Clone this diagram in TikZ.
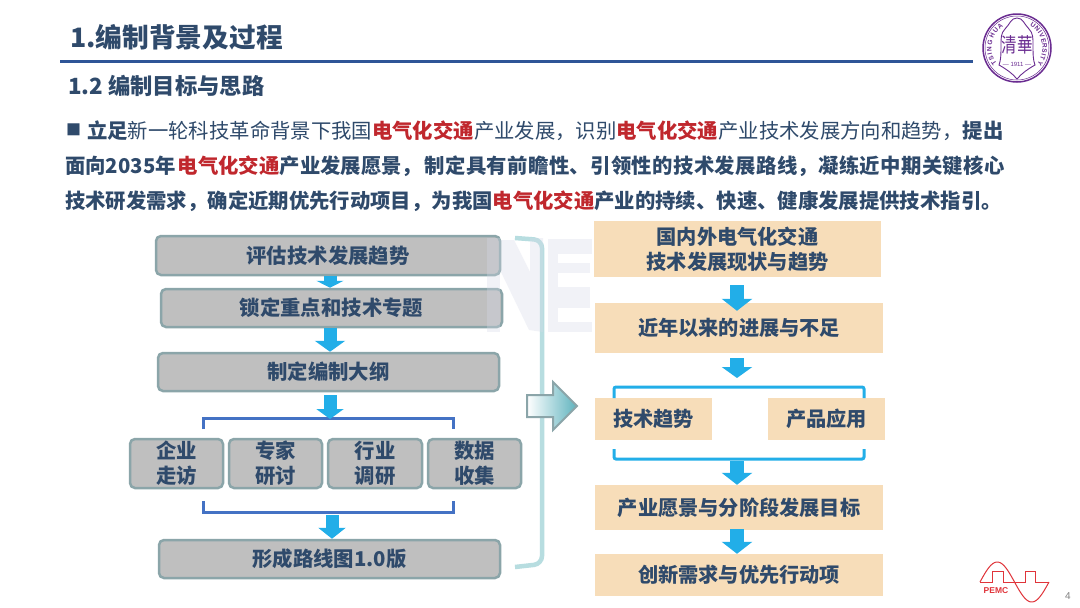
\documentclass[tikz,border=0pt]{standalone}
\usepackage{fontspec}
\setmainfont{Noto Sans CJK SC}
\setsansfont{Liberation Sans}
\usetikzlibrary{arrows.meta,decorations.text}
\definecolor{ink}{HTML}{2F4A6B}
\definecolor{hot}{HTML}{C0272D}
\definecolor{rulec}{HTML}{2F5597}
\definecolor{greyfill}{HTML}{BFBFBF}
\definecolor{greyline}{HTML}{8BA5A9}
\definecolor{sand}{HTML}{F7DDB9}
\definecolor{sky}{HTML}{22AEE8}
\definecolor{royal}{HTML}{4472C4}
\definecolor{pale}{HTML}{B7DDE0}
\definecolor{tealc}{HTML}{5FB3BE}
\definecolor{seal}{HTML}{6A2C91}
\definecolor{pemc}{HTML}{E0343A}
\definecolor{wm}{HTML}{D5DAE8}
\newcommand{\hl}[1]{{\bfseries\color{hot}#1}}
\newcommand{\bodytxt}{\fontsize{20.36}{25}\selectfont}
\tikzset{
  x=1pt,y=-1pt,
  txt/.style={inner sep=0pt,text=ink,font=\bodytxt},
  line/.style={txt,anchor=west},
  graybox/.style={draw=greyline,line width=2.5pt,fill=greyfill,rounded corners=5pt,inner sep=0pt,align=center,text=ink,font=\bfseries\bodytxt},
  sandbox/.style={fill=sand,inner sep=0pt,align=center,text=ink,font=\bfseries\fontsize{20.2}{25}\selectfont},
  flow/.style={draw=sky,line width=#1,line cap=butt},
  flow/.default=13pt,
  bracketa/.style={draw=royal,line width=3pt},
  bracketb/.style={draw=sky,line width=3pt,rounded corners=2pt},
  sealpen/.style={draw=seal,line width=1pt},
  sealtext/.style={decorate,decoration={text along path,text align=fit to path,text={|\color{seal}\sffamily\bfseries\fontsize{6.5}{7}\selectfont|#1}}},
}
\begin{document}
\begin{tikzpicture}
\useasboundingbox (0,0) rectangle (1080,608);
\fill[white] (0,0) rectangle (1080,608);

% header
\node[txt,anchor=west,font=\bfseries\fontsize{26.7}{30}\selectfont] (title) at (70,37) {1.编制背景及过程};
\coordinate (ruleL) at (60,61); \coordinate (ruleR) at (973,61);
\draw[rulec,line width=3pt] (ruleL) -- (ruleR);
\node[txt,anchor=west,font=\bfseries\fontsize{22.3}{26}\selectfont] (sub) at (68,86) {1.2 编制目标与思路};

% paragraph
\node[txt,anchor=west,font=\fontsize{15}{15}\selectfont] (sq) at (66,130) {■};
\node[line] (l1) at (87,131) {\textbf{立足}新一轮科技革命背景下我国\hl{电气化交通}产业发展，识别\hl{电气化交通}产业技术发展方向和趋势，\textbf{提出}};
\node[line,font=\bfseries\bodytxt] (l2) at (65,166) {面向2035年\hspace{2pt}\hl{电气化交通}产业发展愿景，\hspace{2.5pt}{\addfontfeature{LetterSpace=1.8}制定具有前瞻性、引领性的技术发展路线，凝练近中期关键核心}};
\node[line,font=\bfseries\bodytxt] (l3) at (65,201) {技术研发需求，确定近期优先行动项目，为我国\hl{电气化交通}产业的持续、快速、健康发展提供技术指引。};

% big bracket
\coordinate (bkT) at (515,238); \coordinate (bkB) at (515,567);
\draw[pale,line width=4.5pt,rounded corners=8pt] (bkT) -- (542,240) -- (542,564) -- (bkB);

% left boxes
\node[graybox,minimum width=344pt,minimum height=39pt] (b1) at (328,255.5) {评估技术发展趋势};
\node[graybox,minimum width=341pt,minimum height=38pt] (b2) at (331.5,308) {锁定重点和技术专题};
\node[graybox,minimum width=341pt,minimum height=38pt] (b3) at (328.5,372) {制定编制大纲};
\node[graybox,minimum width=93pt,minimum height=49pt] (s1) at (176.5,463.5) {企业\\走访};
\node[graybox,minimum width=93pt,minimum height=49pt] (s2) at (275.5,463.5) {专家\\研讨};
\node[graybox,minimum width=94pt,minimum height=49pt] (s3) at (375,463.5) {行业\\调研};
\node[graybox,minimum width=93pt,minimum height=49pt] (s4) at (474.5,463.5) {数据\\收集};
\node[graybox,minimum width=341pt,minimum height=38pt] (b4) at (329.5,559) {形成路线图1.0版};

% left brackets
\coordinate (ltop) at (330,419); \coordinate (lbot) at (332,512);
\draw[bracketa] (203,429) -- (203,418) -- (453,418) -- (453,429);
\draw[bracketa] (203,501) -- (203,512) -- (453,512) -- (453,501);

% left arrows
\draw[flow,-{Triangle[width=27pt,length=7pt]}] ([xshift=2pt]b1.south) -- ([xshift=-1.5pt]b2.north);
\draw[flow,-{Triangle[width=30pt,length=11pt]}] ([xshift=-1.5pt]b2.south) -- ([xshift=1.5pt]b3.north);
\draw[flow,-{Triangle[width=27pt,length=10pt]}] ([xshift=1.5pt,yshift=-3pt]b3.south) -- (ltop);
\draw[flow,-{Triangle[width=27pt,length=11pt]}] ([yshift=-3pt]lbot) -- ([xshift=2.5pt]b4.north);

% big arrow
\path[draw=greyline,line width=2pt,left color=white,right color=tealc]
  (527,395) -- (553,395) -- (553,382) -- (577,406) -- (553,430) -- (553,417) -- (527,417) -- cycle;

% right boxes
\node[sandbox,minimum width=287pt,minimum height=56pt] (r1) at (737.5,249) {国内外电气化交通\\技术发展现状与趋势};
\node[sandbox,minimum width=288pt,minimum height=50pt] (r2) at (739,328) {近年以来的进展与不足};
\node[sandbox,minimum width=117pt,minimum height=42pt] (t1) at (653.5,419) {技术趋势};
\node[sandbox,minimum width=117pt,minimum height=42pt] (t2) at (826.5,419) {产品应用};
\node[sandbox,minimum width=288pt,minimum height=45pt] (r3) at (739,507.5) {产业愿景与分阶段发展目标};
\node[sandbox,minimum width=288pt,minimum height=42pt] (r4) at (739,575) {创新需求与优先行动项};

% right brackets
\coordinate (rtop) at (737,378); \coordinate (rbot) at (737,461);
\draw[bracketb] (614,398) -- (614,387) -- (864,387) -- (864,398);
\draw[bracketb] (614,449) -- (614,459) -- (864,459) -- (864,449);

% right arrows
\draw[flow=14pt,-{Triangle[width=30pt,length=12pt]}] ([yshift=-8pt,xshift=-.5pt]r1.south) -- ([yshift=-8pt,xshift=-2pt]r2.north);
\draw[flow=14pt,-{Triangle[width=30pt,length=11pt]}] ([yshift=-5pt,xshift=-2pt]r2.south) -- (rtop);
\draw[flow=14pt,-{Triangle[width=30pt,length=12pt]}] (rbot) -- ([xshift=-2pt]r3.north);
\draw[flow=14pt,-{Triangle[width=30pt,length=12pt]}] ([xshift=-2pt,yshift=1pt]r3.south) -- ([xshift=-2pt]r4.north);

% watermark
\begin{scope}[opacity=.33]
\fill[wm] (487,238) -- (500,238) -- (500,332) -- (487,332) -- cycle;
\fill[wm] (500,240) -- (514,240) -- (530,272) -- (530,238) -- (543,238) -- (543,332) -- (529,330) -- (500,270) -- cycle;
\fill[wm] (548,239) rectangle (592,254);
\fill[wm] (548,254) rectangle (558,332);
\fill[wm] (558,263) rectangle (590,273);
\fill[wm] (558,287) rectangle (590,308);
\fill[wm] (558,322) rectangle (592,332);
\end{scope}

% Tsinghua seal
\draw[sealpen,line width=1.5pt] (1017,48) circle[radius=34pt];
\draw[sealpen,line width=.5pt] (1017,48) circle[radius=32pt];
\path[sealtext=TSINGHUA] plot[domain=218:122,samples=40] ({1017+25.5*cos(\x)},{48-25.5*sin(\x)});
\path[sealtext=UNIVERSITY] plot[domain=60:-38,samples=40] ({1017+25.5*cos(\x)},{48-25.5*sin(\x)});
\draw[sealpen,line width=.9pt] (1017,18) .. controls (1011,18) and (1010,24) .. (1005,29) .. controls (1001,33) and (1001,38) .. (1001,44) .. controls (1001,54) and (1001,60) .. (999,65) .. controls (1006,69) and (1012,73) .. (1017,79) .. controls (1022,73) and (1028,69) .. (1035,65) .. controls (1033,60) and (1033,54) .. (1033,44) .. controls (1033,38) and (1033,33) .. (1029,29) .. controls (1024,24) and (1023,18) .. (1017,18) -- cycle;
\node[inner sep=0pt,text=seal,font=\fontsize{15.5}{16}\selectfont,yscale=1.3] (seal1) at (1017,45) {清華};
\node[inner sep=0pt,text=seal,font=\sffamily\fontsize{6}{6}\selectfont] (seal2) at (1017,64) {— 1911 —};

% PEMC
\draw[pemc,line width=1pt] (980,582) -- (992,582) -- (992,571) -- (1003,571) -- (1003,582) -- (1025,582) -- (1025,571) -- (1035,571) -- (1035,582) -- (1049,582);
\draw[pemc,line width=1pt] plot[domain=0:360,samples=60,smooth] ({980+\x/360*69},{582-20*sin(\x)});
\node[inner sep=0pt,text=pemc,font=\sffamily\bfseries\fontsize{8.5}{9}\selectfont] (pemc) at (996,591) {PEMC};
\node[inner sep=0pt,text=gray,font=\sffamily\fontsize{10}{10}\selectfont] (pg) at (1068,596) {4};
\end{tikzpicture}
\end{document}
